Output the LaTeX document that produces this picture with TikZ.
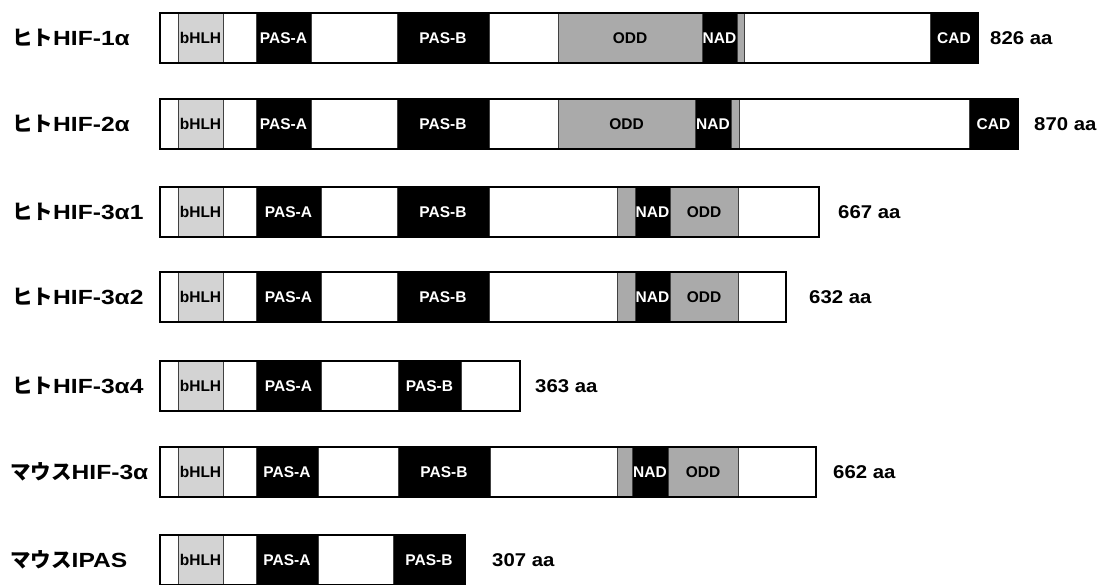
\documentclass[tikz,border=0pt]{standalone}
\usepackage{fontspec}
\setmainfont{Liberation Sans}
\newfontfamily\widefont[FakeStretch=1.2]{Liberation Sans}
\newfontfamily\numfont[FakeStretch=1.1]{Liberation Sans}
\newfontfamily\jpfont{Noto Sans CJK JP}
\usepackage{xcolor}
\usepackage{tikz}
\usetikzlibrary{positioning}

\definecolor{hlhgray}{RGB}{211,211,211}
\definecolor{oddgray}{RGB}{170,170,170}

\begin{document}
\begin{tikzpicture}[
    x=1pt, y=-1pt,
    bar/.style={rectangle, anchor=west, minimum height=50pt, inner sep=0pt, outer sep=0pt, fill=white},
    outline/.style={draw=black, line width=2pt},
    dom/.style={rectangle, anchor=west, minimum height=50pt, inner sep=0pt, outer sep=0pt, draw=black!75, line width=0.8pt, font=\bfseries\fontsize{15.5}{18}\selectfont},
    bhlh/.style={dom, fill=hlhgray, text=black},
    pas/.style={dom, fill=black, text=white},
    odd/.style={dom, fill=oddgray, text=black},
    lbl/.style={anchor=west, inner sep=0pt, font=\widefont\bfseries\fontsize{20.5}{24}\selectfont},
    len/.style={anchor=west, inner sep=0pt, font=\numfont\bfseries\fontsize{18.5}{22}\selectfont},
]
\useasboundingbox (0,0) rectangle (1099,584);

% Human HIF-1a
\node[lbl] (n1) at (12,38) {{\jpfont ヒト}HIF-1α};
\node[bar, minimum width=818] (r1) at (160,38) {};
\node[bhlh, minimum width=45] (r1hlh) at (178,38) {bHLH};
\node[pas, minimum width=55] (r1pasa) at (256,38) {PAS-A};
\node[pas, minimum width=92] (r1pasb) at (397,38) {PAS-B};
\node[odd, minimum width=144] (r1odd) at (558,38) {ODD};
\node[pas, minimum width=35] (r1nad) at (702,38) {NAD};
\node[odd, minimum width=7] (r1gap) at (737,38) {};
\node[pas, minimum width=48] (r1cad) at (930,38) {CAD};
\draw[outline] (r1.north west) rectangle (r1.south east);
\node[len] (l1) at (990,38) {826 aa};

% Human HIF-2a
\node[lbl] (n2) at (12,124) {{\jpfont ヒト}HIF-2α};
\node[bar, minimum width=858] (r2) at (160,124) {};
\node[bhlh, minimum width=45] (r2hlh) at (178,124) {bHLH};
\node[pas, minimum width=55] (r2pasa) at (256,124) {PAS-A};
\node[pas, minimum width=92] (r2pasb) at (397,124) {PAS-B};
\node[odd, minimum width=137] (r2odd) at (558,124) {ODD};
\node[pas, minimum width=36] (r2nad) at (695,124) {NAD};
\node[odd, minimum width=8] (r2gap) at (731,124) {};
\node[pas, minimum width=49] (r2cad) at (969,124) {CAD};
\draw[outline] (r2.north west) rectangle (r2.south east);
\node[len] (l2) at (1034,124) {870 aa};

% Human HIF-3a1
\node[lbl] (n3) at (12,212) {{\jpfont ヒト}HIF-3α1};
\node[bar, minimum width=659] (r3) at (160,212) {};
\node[bhlh, minimum width=45] (r3hlh) at (178,212) {bHLH};
\node[pas, minimum width=65] (r3pasa) at (256,212) {PAS-A};
\node[pas, minimum width=92] (r3pasb) at (397,212) {PAS-B};
\node[odd, minimum width=18] (r3gap) at (617,212) {};
\node[pas, minimum width=35] (r3nad) at (635,212) {NAD};
\node[odd, minimum width=68] (r3odd) at (670,212) {ODD};
\draw[outline] (r3.north west) rectangle (r3.south east);
\node[len] (l3) at (838,212) {667 aa};

% Human HIF-3a2
\node[lbl] (n4) at (12,297) {{\jpfont ヒト}HIF-3α2};
\node[bar, minimum width=626] (r4) at (160,297) {};
\node[bhlh, minimum width=45] (r4hlh) at (178,297) {bHLH};
\node[pas, minimum width=65] (r4pasa) at (256,297) {PAS-A};
\node[pas, minimum width=92] (r4pasb) at (397,297) {PAS-B};
\node[odd, minimum width=18] (r4gap) at (617,297) {};
\node[pas, minimum width=35] (r4nad) at (635,297) {NAD};
\node[odd, minimum width=68] (r4odd) at (670,297) {ODD};
\draw[outline] (r4.north west) rectangle (r4.south east);
\node[len] (l4) at (809,297) {632 aa};

% Human HIF-3a4
\node[lbl] (n5) at (12,386) {{\jpfont ヒト}HIF-3α4};
\node[bar, minimum width=360] (r5) at (160,386) {};
\node[bhlh, minimum width=45] (r5hlh) at (178,386) {bHLH};
\node[pas, minimum width=65] (r5pasa) at (256,386) {PAS-A};
\node[pas, minimum width=63] (r5pasb) at (398,386) {PAS-B};
\draw[outline] (r5.north west) rectangle (r5.south east);
\node[len] (l5) at (535,386) {363 aa};

% Mouse HIF-3a
\node[lbl] (n6) at (10,472) {{\jpfont マウス}HIF-3α};
\node[bar, minimum width=656] (r6) at (160,472) {};
\node[bhlh, minimum width=45] (r6hlh) at (178,472) {bHLH};
\node[pas, minimum width=62] (r6pasa) at (256,472) {PAS-A};
\node[pas, minimum width=92] (r6pasb) at (398,472) {PAS-B};
\node[odd, minimum width=15] (r6gap) at (617,472) {};
\node[pas, minimum width=36] (r6nad) at (632,472) {NAD};
\node[odd, minimum width=70] (r6odd) at (668,472) {ODD};
\draw[outline] (r6.north west) rectangle (r6.south east);
\node[len] (l6) at (833,472) {662 aa};

% Mouse IPAS
\node[lbl] (n7) at (10,560) {{\jpfont マウス}IPAS};
\node[bar, minimum width=305] (r7) at (160,560) {};
\node[bhlh, minimum width=45] (r7hlh) at (178,560) {bHLH};
\node[pas, minimum width=62] (r7pasa) at (256,560) {PAS-A};
\node[pas, minimum width=72] (r7pasb) at (393,560) {PAS-B};
\draw[outline] (r7.north west) rectangle (r7.south east);
\node[len] (l7) at (492,560) {307 aa};

\end{tikzpicture}
\end{document}
